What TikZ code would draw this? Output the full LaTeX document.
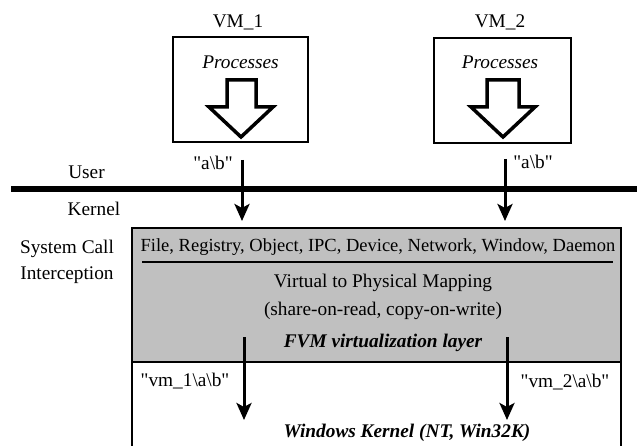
\documentclass[tikz,border=0pt]{standalone}
\usepackage{fontspec}
\setmainfont{Liberation Serif}[Ligatures=TeXOff]
\usetikzlibrary{arrows.meta}
\definecolor{layergray}{HTML}{C0C0C0}
\tikzset{
  txt/.style={inner sep=0pt, font=\fontsize{19.3}{23}\selectfont},
  vmbox/.style={draw=black, line width=1.5pt},
  bigarrow/.style={draw=black, fill=white, line width=3.5pt, line join=miter},
  flow/.style={line width=3pt, -{Stealth[length=17pt, width=15pt, inset=4pt]}},
}
\begin{document}
\begin{tikzpicture}[x=1pt, y=-1pt]
\useasboundingbox (0,0) rectangle (637,446);

% virtual machine boxes with their labels
\node[txt] (vm1) at (238,22) {VM\_1};
\node[txt] (vm2) at (500,22) {VM\_2};
\draw[vmbox] (173,37) rectangle (308,142);
\draw[vmbox] (434,38) rectangle (571,143);
\node[txt, font=\fontsize{19.3}{23}\selectfont\itshape] (proc1) at (240.5,62) {Processes};
\node[txt, font=\fontsize{19.3}{23}\selectfont\itshape] (proc2) at (500,62) {Processes};

% hollow down arrows inside the boxes
\draw[bigarrow] (227,80) -- (256,80) -- (256,107) -- (273,107) -- (241,137)
  -- (209,107) -- (227,107) -- cycle;
\draw[bigarrow] (487,80) -- (519,80) -- (519,107) -- (535,107) -- (503,137)
  -- (471,107) -- (487,107) -- cycle;

% user / kernel boundary
\draw[line width=5.5pt] (11,189) -- (637,189);
\node[txt] (user) at (86.5,172) {User};
\node[txt] (kernel) at (94,209) {Kernel};
\node[txt, align=center] (sci) at (67,262) {System Call\\[3pt]Interception};

% FVM layer (gray) and Windows kernel (white, open at the bottom)
\draw[line width=2pt, fill=layergray] (132,228) rectangle (621,362);
\draw[line width=2pt] (132,362) -- (132,447);
\draw[line width=2pt] (621,362) -- (621,447);
\node[txt, font=\fontsize{18.5}{22}\selectfont] (objs) at (378,247) {File, Registry, Object, IPC, Device, Network, Window, Daemon};
\draw[line width=1.5pt] (142,262) -- (613,262);
\node[txt] (v2p) at (383,283) {Virtual to Physical Mapping};
\node[txt] (cow) at (383,311) {(share-on-read, copy-on-write)};
\node[txt, font=\fontsize{19.3}{23}\selectfont\bfseries\itshape] (fvm) at (383,343) {FVM virtualization layer};
\node[txt, font=\fontsize{19.3}{23}\selectfont\bfseries\itshape] (wk) at (407,433) {Windows Kernel (NT, Win32K)};

% path names passed down
\node[txt] (ab1) at (213,163) {"a\textbackslash b"};
\node[txt] (ab2) at (533,162) {"a\textbackslash b"};
\node[txt] (vab1) at (185,381) {"vm\_1\textbackslash a\textbackslash b"};
\node[txt] (vab2) at (565,382) {"vm\_2\textbackslash a\textbackslash b"};

\coordinate (s1) at (242,160);
\coordinate (e1) at (242,221);
\coordinate (s2) at (505,159);
\coordinate (e2) at (505,221);
\coordinate (s3) at (244,337);
\coordinate (e3) at (244,420);
\coordinate (s4) at (507,337);
\coordinate (e4) at (507,420);
\draw[flow] (s1) -- (e1);
\draw[flow] (s2) -- (e2);
\draw[flow] (s3) -- (e3);
\draw[flow] (s4) -- (e4);
\end{tikzpicture}
\end{document}
